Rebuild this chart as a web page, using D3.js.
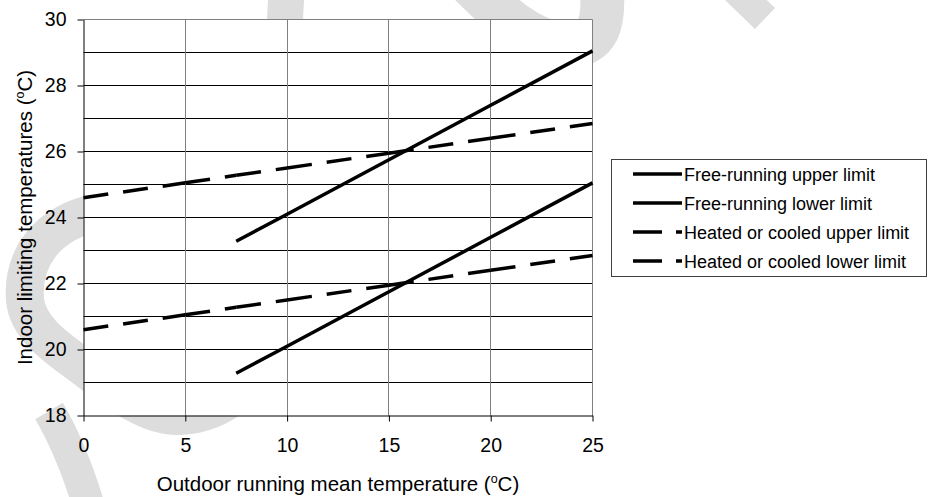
<!DOCTYPE html>
<html>
<head>
<meta charset="utf-8">
<script src="https://cdn.jsdelivr.net/npm/d3@7"></script>
<style>
  html, body { margin: 0; padding: 0; background: #fff; }
  svg { display: block; font-family: "Liberation Sans", Arial, sans-serif; }
</style>
</head>
<body>
<svg id="chart" width="932" height="497"></svg>
<script>
// Outdoor running mean temperature (°C) at each tabulated point
const outdoorT = [0, 5, 7.5, 10, 15, 20, 25];

// Indoor limiting temperatures (°C); null where a series is not defined
const freeRunningUpper = [null, null, 23.28, 24.1, 25.75, 27.4, 29.05];
const freeRunningLower = [null, null, 19.28, 20.1, 21.75, 23.4, 25.05];
const heatedCooledUpper = [24.6, 25.05, 25.28, 25.5, 25.95, 26.4, 26.85];
const heatedCooledLower = [20.6, 21.05, 21.28, 21.5, 21.95, 22.4, 22.85];

const seriesNames = [
  "Free-running upper limit",
  "Free-running lower limit",
  "Heated or cooled upper limit",
  "Heated or cooled lower limit"
];
const seriesValues = [freeRunningUpper, freeRunningLower, heatedCooledUpper, heatedCooledLower];
const seriesDashed = [false, false, true, true];

const xTicks = [0, 5, 10, 15, 20, 25];
const yTicks = [18, 20, 22, 24, 26, 28, 30];
const yGrid = [19, 20, 21, 22, 23, 24, 25, 26, 27, 28, 29];
const xGrid = [5, 10, 15, 20];

const svg = d3.select("#chart");
const plotL = 83.5, plotR = 592.5, plotT = 19.5, plotB = 415.5;

const x = d3.scaleLinear().domain([0, 25]).range([plotL, plotR]);
const y = d3.scaleLinear().domain([18, 30]).range([plotB, plotT]);
const crisp = v => Math.round(v - 0.5) + 0.5;

svg.append("rect").attr("width", 932).attr("height", 497).attr("fill", "#fff");

// Pale background emblem
const wm = svg.append("g").attr("fill", "none").attr("stroke", "#dddddd");
wm.append("path")
  .attr("d", "M100,212 C45,222 22,260 25,300 C28,330 60,350 83,367 C106,384 145,418 180,416 C215,414 245,395 262,360")
  .attr("stroke-width", 38);
wm.append("path").attr("d", "M49,411 Q72,450 90,510").attr("stroke-width", 32);
wm.append("path").attr("d", "M718,-27 L765,18.5").attr("stroke-width", 29);
wm.append("path").attr("d", "M286,60 C284,20 285,0 290,-30").attr("stroke-width", 36);
wm.append("path").attr("d", "M440,-45 C480,-10 515,40 565,45 C598,48 606,25 601,-20").attr("stroke-width", 44);

// Plot area
svg.append("rect").attr("x", plotL).attr("y", plotT)
  .attr("width", plotR - plotL).attr("height", plotB - plotT).attr("fill", "#fff");

const grid = svg.append("g");
grid.selectAll("line.h").data(yGrid).join("line")
  .attr("x1", plotL).attr("x2", plotR)
  .attr("y1", d => crisp(y(d))).attr("y2", d => crisp(y(d)))
  .attr("stroke", "#000").attr("stroke-width", 1);
grid.selectAll("line.v").data(xGrid).join("line")
  .attr("y1", plotT).attr("y2", plotB)
  .attr("x1", d => crisp(x(d))).attr("x2", d => crisp(x(d)))
  .attr("stroke", "#808080").attr("stroke-width", 1);

// Top and right frame
svg.append("path").attr("d", `M${plotL},${plotT}H${plotR}V${plotB}`)
  .attr("fill", "none").attr("stroke", "#808080").attr("stroke-width", 1);

// Series lines
const lineGen = d3.line().x(d => x(d[0])).y(d => y(d[1]));
const linesG = svg.append("g").attr("fill", "none").attr("stroke", "#000")
  .attr("stroke-width", 3.5).attr("stroke-linecap", "butt");

seriesValues.forEach((vals, i) => {
  const pts = outdoorT.map((t, j) => [t, vals[j]]).filter(d => d[1] != null);
  if (!seriesDashed[i]) {
    linesG.append("path").attr("d", lineGen(pts));
  } else {
    // dash pattern restarts at every tabulated point
    for (let k = 0; k < pts.length - 1; k++) {
      linesG.append("path").attr("d", lineGen([pts[k], pts[k + 1]]))
        .attr("stroke-dasharray", "25 15");
    }
  }
});

// Axes
const tickFont = "19.5px";
const yAxis = svg.append("g").attr("transform", `translate(${plotL},0)`)
  .call(d3.axisLeft(y).tickValues(yTicks).tickSize(6).tickSizeOuter(0).tickPadding(11).tickFormat(d3.format("d")));
const xAxis = svg.append("g").attr("transform", `translate(0,${plotB})`)
  .call(d3.axisBottom(x).tickValues(xTicks).tickSize(6).tickSizeOuter(0).tickPadding(17).tickFormat(d3.format("d")));
[yAxis, xAxis].forEach(a => {
  a.attr("font-family", null).attr("font-size", null);
  a.select(".domain").attr("stroke", "#000");
  a.selectAll(".tick line").attr("stroke", "#000");
  a.selectAll(".tick text").attr("fill", "#000").style("font-size", tickFont);
});

// Axis titles
const xt = svg.append("text").attr("x", (plotL + plotR) / 2).attr("y", 491)
  .attr("text-anchor", "middle").style("font-size", "20.5px").attr("fill", "#000");
xt.append("tspan").text("Outdoor running mean temperature (");
xt.append("tspan").text("o").style("font-size", "12.5px").attr("dy", -8);
xt.append("tspan").text("C)").attr("dy", 8);

const yt = svg.append("text").attr("transform", `translate(32,${(plotT + plotB) / 2}) rotate(-90)`)
  .attr("text-anchor", "middle").style("font-size", "20.5px").attr("fill", "#000");
yt.append("tspan").text("Indoor limiting temperatures (");
yt.append("tspan").text("o").style("font-size", "12.5px").attr("dy", -8);
yt.append("tspan").text("C)").attr("dy", 8);

// Legend
const lg = svg.append("g");
lg.append("rect").attr("x", 611.5).attr("y", 159.5).attr("width", 315).attr("height", 117)
  .attr("fill", "#fff").attr("stroke", "#404040").attr("stroke-width", 1);
seriesNames.forEach((name, i) => {
  const ly = 174 + i * 29;
  lg.append("line").attr("x1", 633).attr("x2", 682).attr("y1", ly).attr("y2", ly)
    .attr("stroke", "#000").attr("stroke-width", 3.5)
    .attr("stroke-dasharray", seriesDashed[i] ? "29 14" : null);
  lg.append("text").attr("x", 684).attr("y", ly + 7).text(name)
    .style("font-size", "18px").attr("fill", "#000");
});
</script>
</body>
</html>
